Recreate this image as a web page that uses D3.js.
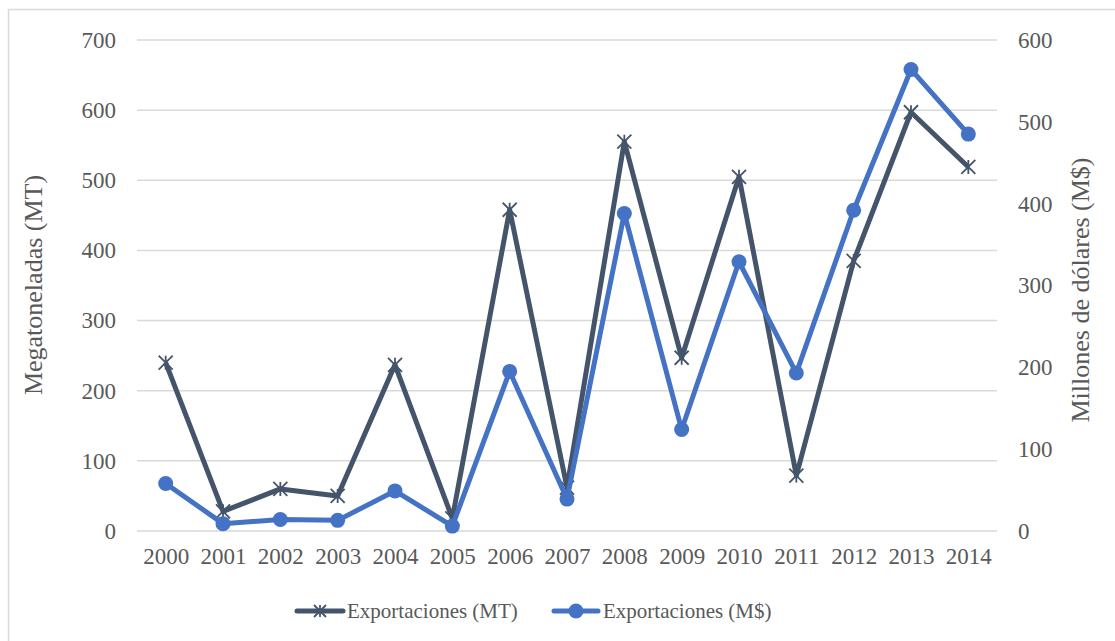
<!DOCTYPE html>
<html>
<head>
<meta charset="utf-8">
<script src="https://cdn.jsdelivr.net/npm/d3@7"></script>
<style>
  body { margin: 0; background: #fff; }
  svg { display: block; font-family: "Liberation Serif", "Times New Roman", serif; }
</style>
</head>
<body>
<svg id="chart" width="1115" height="641"></svg>
<script>
// datos
const anios = ["2000","2001","2002","2003","2004","2005","2006","2007","2008","2009","2010","2011","2012","2013","2014"];
const exportMT = [240, 28, 60, 50, 237, 18, 458, 62, 555, 247, 505, 79, 385, 597, 519];
const exportUSD = [58, 9, 14, 13, 49, 6, 195, 39, 388, 124, 329, 193, 392, 564, 485];
const ticksIzq = [0, 100, 200, 300, 400, 500, 600, 700];
const ticksDer = [0, 100, 200, 300, 400, 500, 600];

const colorMT = "#44546A";
const colorUSD = "#4472C4";
const gris = "#595959";

const svg = d3.select("#chart");

// borde exterior
svg.append("rect")
  .attr("x", 8.5).attr("y", 9.5)
  .attr("width", 1110).attr("height", 640)
  .attr("fill", "none").attr("stroke", "#d9d9d9").attr("stroke-width", 1.5);

const x = d3.scalePoint().domain(anios).range([137, 997]).padding(0.5);
const yIzq = d3.scaleLinear().domain([0, 700]).range([531, 40]);
const yDer = d3.scaleLinear().domain([0, 600]).range([531, 40]);

// grilla
svg.append("g").selectAll("line").data(ticksIzq).join("line")
  .attr("x1", 137).attr("x2", 997)
  .attr("y1", d => yIzq(d)).attr("y2", d => yIzq(d))
  .attr("stroke", "#d9d9d9").attr("stroke-width", 1.5);

function limpiarEje(g) {
  g.attr("font-family", null).attr("font-size", null);
  g.select(".domain").remove();
  g.selectAll("text").attr("fill", gris).style("font-size", "23px");
}

// eje izquierdo
svg.append("g").attr("transform", "translate(128,0)")
  .call(d3.axisLeft(yIzq).tickValues(ticksIzq).tickSize(0).tickPadding(12))
  .call(limpiarEje);

// eje derecho
svg.append("g").attr("transform", "translate(1006,0)")
  .call(d3.axisRight(yDer).tickValues(ticksDer).tickSize(0).tickPadding(12))
  .call(limpiarEje);

// eje x
svg.append("g").attr("transform", "translate(0,538)")
  .call(d3.axisBottom(x).tickSize(0).tickPadding(10))
  .call(limpiarEje);

// titulos de ejes
svg.append("text")
  .attr("transform", "translate(42,285) rotate(-90)")
  .attr("text-anchor", "middle")
  .attr("fill", gris).style("font-size", "26px")
  .text("Megatoneladas (MT)");

svg.append("text")
  .attr("transform", "translate(1089,290) rotate(-90)")
  .attr("text-anchor", "middle")
  .attr("fill", gris).style("font-size", "26px")
  .text("Millones de dólares (M$)");

// lineas
const lineaMT = d3.line().x((d, i) => x(anios[i])).y(d => yIzq(d));
const lineaUSD = d3.line().x((d, i) => x(anios[i])).y(d => yDer(d));

svg.append("path").datum(exportMT)
  .attr("d", lineaMT).attr("fill", "none")
  .attr("stroke", colorMT).attr("stroke-width", 5).attr("stroke-linejoin", "round");

function estrella(g, cx, cy, s) {
  g.append("path")
    .attr("d", `M${cx - s},${cy - s}L${cx + s},${cy + s}M${cx - s},${cy + s}L${cx + s},${cy - s}M${cx},${cy - s}L${cx},${cy + s}`)
    .attr("stroke", colorMT).attr("stroke-width", 1.8).attr("fill", "none");
}

const marcasMT = svg.append("g");
exportMT.forEach((v, i) => estrella(marcasMT, x(anios[i]), yIzq(v), 7));

svg.append("path").datum(exportUSD)
  .attr("d", lineaUSD).attr("fill", "none")
  .attr("stroke", colorUSD).attr("stroke-width", 5).attr("stroke-linejoin", "round");

svg.append("g").selectAll("circle").data(exportUSD).join("circle")
  .attr("cx", (d, i) => x(anios[i])).attr("cy", d => yDer(d))
  .attr("r", 7.5).attr("fill", colorUSD);

// leyenda
const ley = svg.append("g");
ley.append("line").attr("x1", 297).attr("x2", 343).attr("y1", 611).attr("y2", 611)
  .attr("stroke", colorMT).attr("stroke-width", 5).attr("stroke-linecap", "round");
estrella(ley, 320, 611, 6);
ley.append("text").attr("x", 347).attr("y", 618).attr("fill", gris).style("font-size", "21px")
  .text("Exportaciones (MT)");

ley.append("line").attr("x1", 554).attr("x2", 598).attr("y1", 611).attr("y2", 611)
  .attr("stroke", colorUSD).attr("stroke-width", 5).attr("stroke-linecap", "round");
ley.append("circle").attr("cx", 576).attr("cy", 611).attr("r", 7.5).attr("fill", colorUSD);
ley.append("text").attr("x", 603).attr("y", 618).attr("fill", gris).style("font-size", "21px")
  .text("Exportaciones (M$)");
</script>
</body>
</html>
